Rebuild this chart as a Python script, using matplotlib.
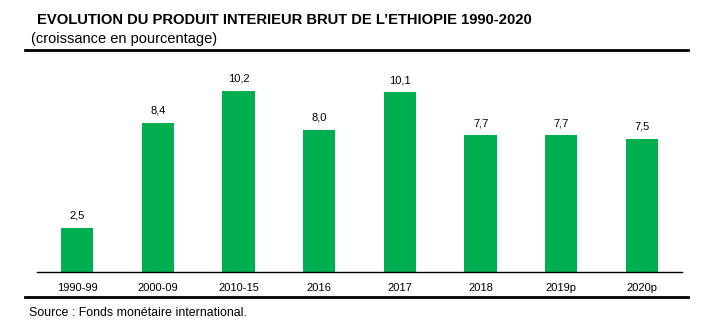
import matplotlib.pyplot as plt
from matplotlib.lines import Line2D

periods = ["1990-99", "2000-09", "2010-15", "2016", "2017", "2018", "2019p", "2020p"]
growth = [2.5, 8.4, 10.2, 8.0, 10.1, 7.7, 7.7, 7.5]
labels = ["2,5", "8,4", "10,2", "8,0", "10,1", "7,7", "7,7", "7,5"]

plt.rcParams['font.family'] = ['Liberation Sans', 'DejaVu Sans']

fig = plt.figure(figsize=(7.1, 3.36), dpi=100)
ax = fig.add_axes([0.052, 0.19, 0.909, 0.625])

x = range(len(periods))
bars = ax.bar(x, growth, width=0.4, color='#00B050')
for b, lab in zip(bars, labels):
    ax.text(b.get_x() + b.get_width() / 2, b.get_height() + 0.4, lab,
            ha='center', va='bottom', fontsize=8)

ax.set_xlim(-0.5, len(periods) - 0.5)
ax.set_ylim(0, 11.8)
ax.set_xticks(list(x))
ax.set_xticklabels(periods, fontsize=8)
ax.tick_params(axis='x', length=0, pad=8)
ax.set_yticks([])
for side in ['top', 'right', 'left']:
    ax.spines[side].set_visible(False)
ax.spines['bottom'].set_linewidth(1.0)

# lignes horizontales haut / bas
fig.add_artist(Line2D([25 / 710, 688 / 710], [1 - 50 / 336] * 2, color='black', lw=2))
fig.add_artist(Line2D([25 / 710, 688 / 710], [1 - 297 / 336] * 2, color='black', lw=2))

fig.text(37 / 710, 1 - 20 / 336, "EVOLUTION DU PRODUIT INTERIEUR BRUT DE L\u2019ETHIOPIE 1990-2020",
         fontsize=10.6, fontweight='bold', va='center', ha='left')
fig.text(31 / 710, 1 - 39 / 336, "(croissance en pourcentage)", fontsize=10.5, va='center', ha='left')
fig.text(29 / 710, 1 - 313 / 336, "Source : Fonds mon\u00e9taire international.", fontsize=8.9,
         va='center', ha='left')

fig.savefig("out.png", dpi=100)
